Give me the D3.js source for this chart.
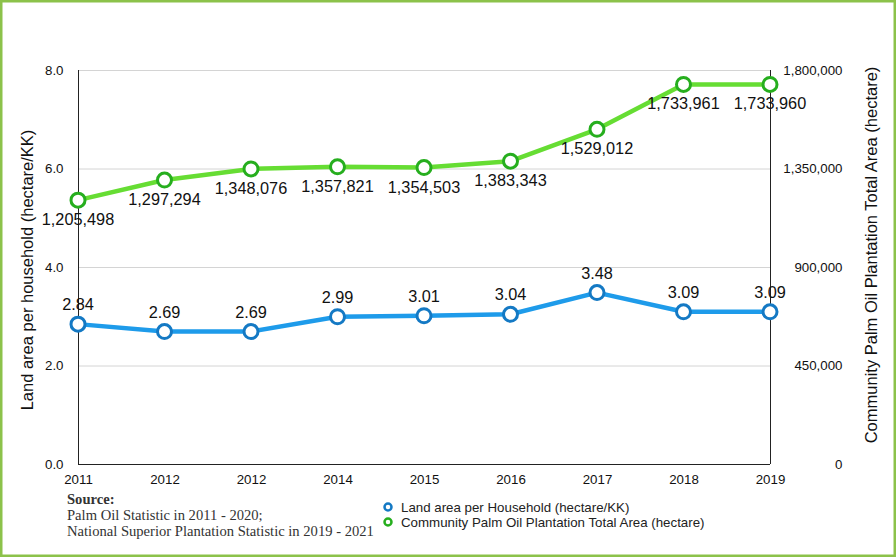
<!DOCTYPE html>
<html><head><meta charset="utf-8">
<script src="https://cdn.jsdelivr.net/npm/d3@7"></script>
<style>body{margin:0;background:#fff}svg{display:block}</style>
</head><body>
<svg id="c" width="896" height="557"></svg>
<script>
const years = ["2011","2012","2012","2014","2015","2016","2017","2018","2019"];
const landPerHH = [2.84, 2.69, 2.69, 2.99, 3.01, 3.04, 3.48, 3.09, 3.09];
const totalArea = [1205498, 1297294, 1348076, 1357821, 1354503, 1383343, 1529012, 1733961, 1733960];
const leftTicks = [0, 2, 4, 6, 8];
const rightTicks = [0, 450000, 900000, 1350000, 1800000];
const seriesNames = ["Land area per Household (hectare/KK)", "Community Palm Oil Plantation Total Area (hectare)"];
const sourceLines = ["Palm Oil Statistic in 2011 - 2020;", "National Superior Plantation Statistic in 2019 - 2021"];

const svg = d3.select("#c");
const font = "Arial, 'Liberation Sans', Helvetica, sans-serif";
const L = 78, R = 770, T = 70, B = 464;

svg.append("rect").attr("x",1.25).attr("y",1.25).attr("width",893.5).attr("height",554.5)
  .attr("fill","#fff").attr("stroke","#8CC24A").attr("stroke-width",2.5);

const x = d3.scalePoint().domain(d3.range(years.length)).range([L, R]);
const yL = d3.scaleLinear().domain([0, 8]).range([B, T]);
const yR = d3.scaleLinear().domain([0, 1800000]).range([B, T]);

// gridlines
svg.append("g").selectAll("line").data(leftTicks.filter(d=>d>0)).join("line")
  .attr("x1", L).attr("x2", R).attr("y1", d=>yL(d)+0.5).attr("y2", d=>yL(d)+0.5)
  .attr("stroke","#d4d4d4").attr("stroke-width",1);

// axes
const gl = svg.append("g").attr("transform",`translate(${L+0.5},0)`)
  .call(d3.axisLeft(yL).tickValues(leftTicks).tickFormat(d3.format(".1f")).tickSize(0).tickPadding(15));
const gr = svg.append("g").attr("transform",`translate(${R+0.5},0)`)
  .call(d3.axisRight(yR).tickValues(rightTicks).tickFormat(d=>d===0?"0":d3.format(",")(d)).tickSize(0).tickPadding(15));
gr.selectAll("text").attr("text-anchor","end").attr("x", 72);
const gb = svg.append("g").attr("transform",`translate(0,${B+0.5})`)
  .call(d3.axisBottom(x).tickFormat(i=>years[i]).tickSize(0).tickPadding(10));
[gl,gr,gb].forEach(g=>{
  g.selectAll(".domain").attr("stroke","#222").attr("stroke-width",1);
  g.selectAll("text").attr("font-family",font).attr("font-size",13.3).attr("fill","#111");
});
gl.select(".domain").attr("d",`M0,${T}V${B}`);
gr.select(".domain").attr("d",`M0,${T}V${B}`);
gb.select(".domain").attr("d",`M${L},0H${R}`);

// axis titles
svg.append("text").attr("transform",`translate(33,${(T+B)/2+3}) rotate(-90)`).attr("text-anchor","middle")
  .attr("font-family",font).attr("font-size",16.5).attr("fill","#111").text("Land area per household (hectare/KK)");
svg.append("text").attr("transform",`translate(877,${(T+B)/2-12}) rotate(-90)`).attr("text-anchor","middle")
  .attr("font-family",font).attr("font-size",16.5).attr("fill","#111").text("Community Palm Oil Plantation Total Area (hectare)");

function series(vals, yScale, lineColor, markColor, labelFmt, dy){
  const g = svg.append("g");
  g.append("path").datum(vals)
    .attr("d", d3.line().x((d,i)=>x(i)).y(d=>yScale(d)))
    .attr("fill","none").attr("stroke",lineColor).attr("stroke-width",4.5).attr("stroke-linejoin","round");
  g.selectAll("circle").data(vals).join("circle")
    .attr("cx",(d,i)=>x(i)).attr("cy",d=>yScale(d)).attr("r",7)
    .attr("fill","#fff").attr("stroke",markColor).attr("stroke-width",3);
  g.selectAll("text").data(vals).join("text")
    .attr("x",(d,i)=>x(i)).attr("y",d=>yScale(d)+dy).attr("text-anchor","middle")
    .attr("font-family",font).attr("font-size",16.3).attr("fill","#111").text(labelFmt);
}
series(totalArea, yR, "#66DD33", "#26AE1E", d3.format(","), 25);
series(landPerHH, yL, "#1E9BEA", "#1479C4", d3.format(".2f"), -14);

// source
const src = svg.append("g").attr("font-family","Georgia, 'Liberation Serif', 'DejaVu Serif', serif").attr("font-size",14.6).attr("fill","#333");
src.append("text").attr("x",67).attr("y",504).attr("font-weight","bold").text("Source:");
src.selectAll("text.l").data(sourceLines).join("text").attr("class","l")
  .attr("x",67).attr("y",(d,i)=>520+i*15.5).text(d=>d);

// legend
const leg = svg.append("g");
const legColors = ["#1479C4","#26AE1E"];
seriesNames.forEach((n,i)=>{
  const yy = 507 + i*15;
  leg.append("circle").attr("cx",388).attr("cy",yy).attr("r",3.5).attr("fill","#fff")
    .attr("stroke",legColors[i]).attr("stroke-width",2.5);
  leg.append("text").attr("x",401).attr("y",yy+4.5).attr("font-family",font).attr("font-size",13.3)
    .attr("fill","#222").text(n);
});
</script>
</body></html>
